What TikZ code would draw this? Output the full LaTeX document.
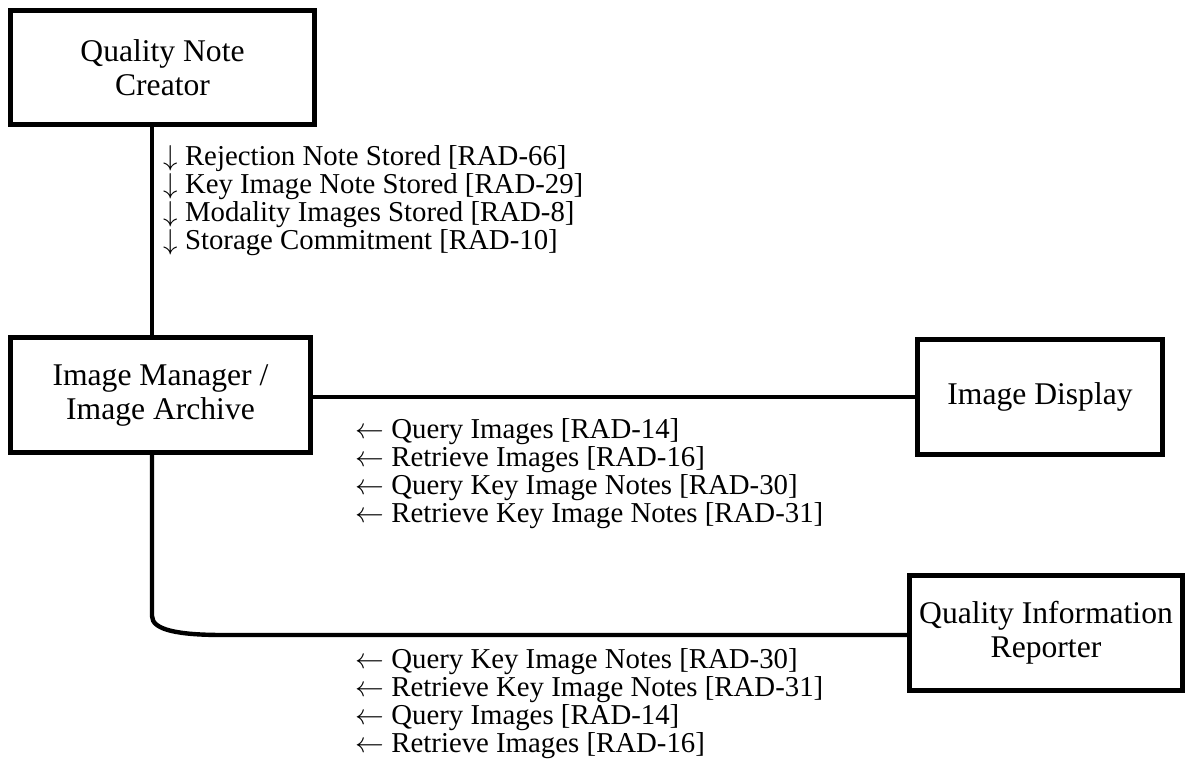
\documentclass[tikz,border=0pt]{standalone}
\usepackage{fontspec}
\setmainfont{Liberation Serif}
\usetikzlibrary{calc}
\tikzset{actor/.style = {draw, line width=2.5pt, inner sep=0pt, align=center,
                         font=\fontsize{15.8pt}{17pt}\selectfont},
         link/.style  = {line width=2.2pt},
         txn/.style   = {anchor=base west, inner sep=0pt,
                         font=\fontsize{14.4pt}{14pt}\selectfont}}
\newcommand{\msglist}[5]{
  \foreach \msg [count=\k] in {#5} {
    \node[txn] (#1\k) at (#2, {#3+28*\k-28}) {$#4$ \msg};
  }
}

\begin{document}
\begin{tikzpicture}[x=0.5pt, y=-0.5pt]
  \useasboundingbox (0,0) rectangle (1186,780);
  \node[actor, minimum width=152pt, minimum height=57pt]   (qnc)  at (162.5,67.5) {Quality Note\\Creator};
  \node[actor, minimum width=150pt, minimum height=57.5pt] (imgr) at (160.5,395)  {Image Manager /\\Image Archive};
  \node[actor, minimum width=122.5pt, minimum height=57.5pt] (disp) at (1040,397) {Image Display};
  \node[actor, minimum width=136.5pt, minimum height=57.5pt] (qir) at (1046,633)  {Quality Information\\Reporter};
  \coordinate (spine) at (152,0);
  \coordinate (knee) at (152,616);
  \coordinate (tail) at (223,635);
  \draw[link] (qnc.south -| spine) -- (imgr.north -| spine);
  \draw[link] (imgr.east |- disp) -- (disp.west);
  \draw[link] (imgr.south -| spine) -- (knee) .. controls +(0,14) and +(-45,0) .. (tail) -- (qir.west |- tail);
  \msglist{st}{163}{166}{\downarrow}{Rejection Note Stored [RAD-66],Key Image Note Stored [RAD-29],Modality Images Stored [RAD-8],Storage Commitment [RAD-10]}
  \msglist{qd}{355}{438}{\leftarrow}{Query Images [RAD-14],Retrieve Images [RAD-16],Query Key Image Notes [RAD-30],Retrieve Key Image Notes [RAD-31]}
  \msglist{qr}{355}{668}{\leftarrow}{Query Key Image Notes [RAD-30],Retrieve Key Image Notes [RAD-31],Query Images [RAD-14],Retrieve Images [RAD-16]}
\end{tikzpicture}
\end{document}
